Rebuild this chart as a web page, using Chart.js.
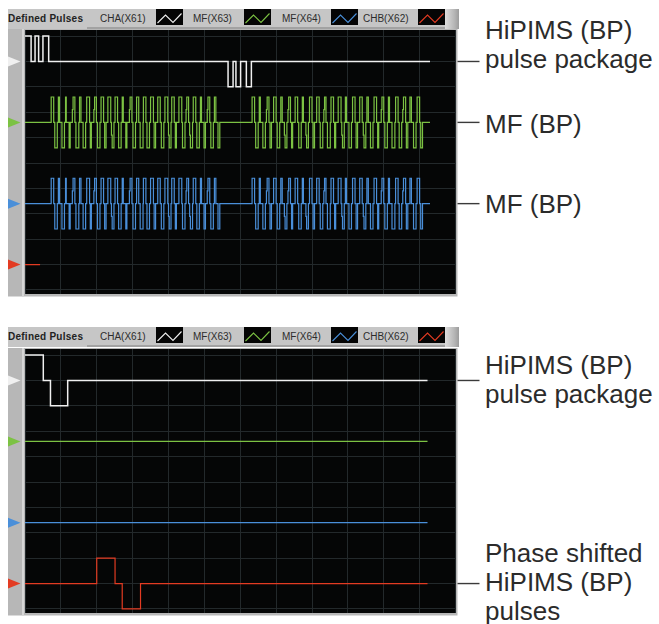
<!DOCTYPE html>
<html>
<head>
<meta charset="utf-8">
<script src="https://cdn.jsdelivr.net/npm/chart.js@4.4.1/dist/chart.umd.min.js"></script>
<style>
  html, body { margin: 0; padding: 0; background: #fff; }
  body { width: 659px; height: 624px; position: relative; overflow: hidden;
         font-family: "Liberation Sans", Arial, sans-serif; }
  .panel { position: absolute; left: 0; width: 659px; height: 305px; }
  .strip { position: absolute; left: 8px; top: 9px; width: 451px; height: 20px; background: #c6c6c6; }
  .strip .shade { position: absolute; left: 79px; right: 0; bottom: 0; height: 2px; background: #a2a2a2; }
  .strip .cap { position: absolute; right: 0; top: 0; width: 14px; height: 20px;
                background: linear-gradient(90deg, #dedede, #b4b4b4 70%, #9c9c9c); }
  .title { position: absolute; left: 8px; top: 9px; line-height: 20px; font-size: 10px;
           font-weight: bold; color: #222; letter-spacing: 0.25px; }
  .lab { position: absolute; top: 9px; line-height: 20px; font-size: 10px; color: #2c2c2c; }
  .icon { position: absolute; top: 9px; }
  canvas { position: absolute; left: 8px; }
  .note { position: absolute; left: 485px; font-size: 26px; line-height: 29px; color: #2b2b2b; white-space: nowrap; }
</style>
</head>
<body>

<div class="panel" id="panelTop" style="top:0px">
  <canvas id="scopeTop" width="472" height="270" style="top:29px"></canvas>
  <div class="note" style="top:16px">HiPIMS (BP)<br>pulse package</div>
  <div class="note" style="top:110px">MF (BP)</div>
  <div class="note" style="top:190px">MF (BP)</div>
</div>

<div class="panel" id="panelBottom" style="top:318px">
  <canvas id="scopeBottom" width="472" height="270" style="top:30px"></canvas>
  <div class="note" style="top:33px">HiPIMS (BP)<br>pulse package</div>
  <div class="note" style="top:221px">Phase shifted<br>HiPIMS (BP)<br>pulses</div>
</div>

<script>
// ---- channels -------------------------------------------------------------
const channelNames   = ['CHA(X61)', 'MF(X63)', 'MF(X64)', 'CHB(X62)'];
const channelColors  = ['#f0f0f0', '#7cc243', '#4a8fd9', '#e33b22'];
const channelOffsets = [9, 6.6, 3.4, 1];          // trace baselines, in divisions

// time axis: 12 divisions of 100
const timeMin = 0, timeMax = 1200, timeStep = 100;
const levelMin = -0.16, levelMax = 10.24, levelStep = 1;

// ---- upper scope: HiPIMS pulse package between MF bursts -----------------
// [time, level] change points, level relative to the channel baseline
const hipimsPackage = [[0, 1], [17, 0], [28, 1], [38, 0], [50, 1], [66, 0],
                       [566, -1], [580, 0], [588, -1], [601, 0], [617, -1], [631, 0], [1129, 0]];
const chbStub = [[0, 0], [42, 0]];

// MF bursts: start time and width of each positive / negative half pulse,
// plus the pulses (by index) that open with a half-level step
const mfPosStart1 = [73, 93, 113, 132, 152, 172, 192, 212, 231, 251, 271, 291,
                     311, 330, 350, 370, 390, 409, 429, 449, 469, 489, 508, 528];
const mfPosWidth1 = [7, 3, 2, 7, 4, 8, 7, 7, 8, 7, 3, 7, 6, 7, 8, 7, 8, 7, 8, 7, 7, 3, 7, 4];
const mfPosHalf1  = [3, 6, 11, 19, 22];
const mfNegStart1 = [83, 103, 123, 142, 162, 182, 202, 222, 241, 261, 281, 301,
                     321, 340, 360, 380, 400, 419, 439, 459, 479, 499, 518, 538];
const mfNegWidth1 = [7, 7, 3, 8, 7, 3, 7, 4, 7, 7, 3, 7, 8, 7, 4, 7, 7, 3, 7, 8, 7, 4, 7, 5];
const mfNegHalf1  = [8, 16, 19];

const mfPosStart2 = [633, 653, 673, 693, 713, 733, 753, 773, 793, 813, 833, 853,
                     873, 893, 913, 933, 953, 973, 993, 1013, 1033, 1053, 1073, 1093];
const mfPosWidth2 = [7, 3, 7, 7, 4, 7, 7, 3, 7, 7, 6, 7, 8, 3, 7, 7, 4, 7, 7, 3, 7, 8, 4, 7];
const mfPosHalf2  = [2, 5, 10, 18, 21];
const mfNegStart2 = [643, 663, 683, 703, 723, 743, 763, 783, 803, 823, 843, 863,
                     883, 903, 923, 943, 963, 983, 1003, 1023, 1043, 1063, 1083, 1103];
const mfNegWidth2 = [7, 7, 4, 7, 7, 3, 7, 7, 4, 7, 8, 3, 7, 7, 4, 7, 7, 3, 7, 8, 7, 4, 7, 5];
const mfNegHalf2  = [4, 7, 12, 15];
const mfEnd = 1129;

// ---- lower scope: single package and phase shifted pulses -----------------
const hipimsSingle  = [[0, 1], [51, 0], [71, -1], [119, 0], [1122, 0]];
const mfIdle        = [[0, 0], [1122, 0]];
const hipimsShifted = [[0, 0], [200, 1], [251, 0], [271, -1], [322, 0], [1122, 0]];

// ---- helpers ----------------------------------------------------------------
function mfTrace() {
  const ev = [[0, 0]];
  const add = (starts, widths, half, lvl) => starts.forEach((s, i) => {
    if (half.includes(i)) { ev.push([s, lvl / 2]); ev.push([s + 2, lvl]); }
    else ev.push([s, lvl]);
    ev.push([s + widths[i], 0]);
  });
  add(mfPosStart1, mfPosWidth1, mfPosHalf1, 1);  add(mfNegStart1, mfNegWidth1, mfNegHalf1, -1);
  add(mfPosStart2, mfPosWidth2, mfPosHalf2, 1);  add(mfNegStart2, mfNegWidth2, mfNegHalf2, -1);
  ev.sort((a, b) => a[0] - b[0]);
  ev.push([mfEnd, 0]);
  return ev;
}
const toPoints = (steps, ch) => steps.map(([t, l]) => ({ x: t, y: channelOffsets[ch] + l }));

// legend strip (HTML) for each scope
function buildStrip(panel) {
  const labX = [100, 193, 282, 363], icoX = [156, 244, 331, 418];
  let html = '<div class="strip"><div class="shade"></div><div class="cap"></div></div>' +
             '<div class="title">Defined Pulses</div>';
  channelNames.forEach((n, i) => {
    html += `<div class="lab" style="left:${labX[i]}px">${n}</div>`;
    html += `<svg class="icon" style="left:${icoX[i]}px" width="27" height="16">` +
            `<rect width="27" height="16" fill="#050505"/>` +
            `<polyline points="1.5,14 9.5,6 17,13.5 25.5,4.5" fill="none" stroke="${channelColors[i]}" stroke-width="1.1"/></svg>`;
  });
  panel.insertAdjacentHTML('afterbegin', html);
}

// scope frame, channel markers and leader lines
const scopeFrame = {
  id: 'scopeFrame',
  beforeDraw(chart) {
    const { ctx, chartArea: a } = chart;
    ctx.save();
    ctx.fillStyle = '#b7b7b7';
    ctx.fillRect(0, 0, a.right + 2, a.bottom + 2.5);
    ctx.fillStyle = '#d6d6d6';
    ctx.fillRect(a.left - 3, 0, 2, a.bottom + 2.5);
    ctx.fillStyle = '#050606';
    ctx.fillRect(a.left, a.top, a.right - a.left, a.bottom - a.top);
    ctx.restore();
  },
  afterDatasetsDraw(chart, args, opts) {
    const { ctx, chartArea: a, scales: { y } } = chart;
    ctx.save();
    channelOffsets.forEach((off, i) => {
      const py = y.getPixelForValue(off);
      ctx.fillStyle = channelColors[i];
      ctx.beginPath();
      ctx.moveTo(0, py - 5); ctx.lineTo(12.5, py); ctx.lineTo(0, py + 5);
      ctx.closePath(); ctx.fill();
    });
    ctx.strokeStyle = '#3a3a3a';
    ctx.lineWidth = 1.4;
    (opts.notes || []).forEach(i => {
      const py = y.getPixelForValue(channelOffsets[i]);
      ctx.beginPath(); ctx.moveTo(a.right + 2, py); ctx.lineTo(a.right + 24, py); ctx.stroke();
    });
    ctx.restore();
  }
};

function makeScope(id, traces, notes) {
  const grid = { color: '#23292b', lineWidth: 1, drawTicks: false };
  return new Chart(document.getElementById(id), {
    type: 'line',
    data: {
      datasets: traces.map((steps, i) => ({
        data: toPoints(steps, i),
        borderColor: channelColors[i],
        borderWidth: i === 0 ? 1.5 : 1.2,
        stepped: true, fill: false, pointRadius: 0
      }))
    },
    options: {
      responsive: false, animation: false, events: [],
      layout: { padding: { left: 17, right: 24.5, top: 1, bottom: 5 } },
      plugins: { legend: { display: false }, tooltip: { enabled: false }, scopeFrame: { notes } },
      scales: {
        x: { type: 'linear', min: timeMin, max: timeMax,
             ticks: { display: false, stepSize: timeStep }, grid, border: { display: false } },
        y: { type: 'linear', min: levelMin, max: levelMax,
             ticks: { display: false, stepSize: levelStep, includeBounds: false }, grid, border: { display: false } }
      }
    },
    plugins: [scopeFrame]
  });
}

buildStrip(document.getElementById('panelTop'));
buildStrip(document.getElementById('panelBottom'));

const mf = mfTrace();
makeScope('scopeTop', [hipimsPackage, mf, mf, chbStub], [0, 1, 2]);
makeScope('scopeBottom', [hipimsSingle, mfIdle, mfIdle, hipimsShifted], [0, 3]);
</script>
</body>
</html>
